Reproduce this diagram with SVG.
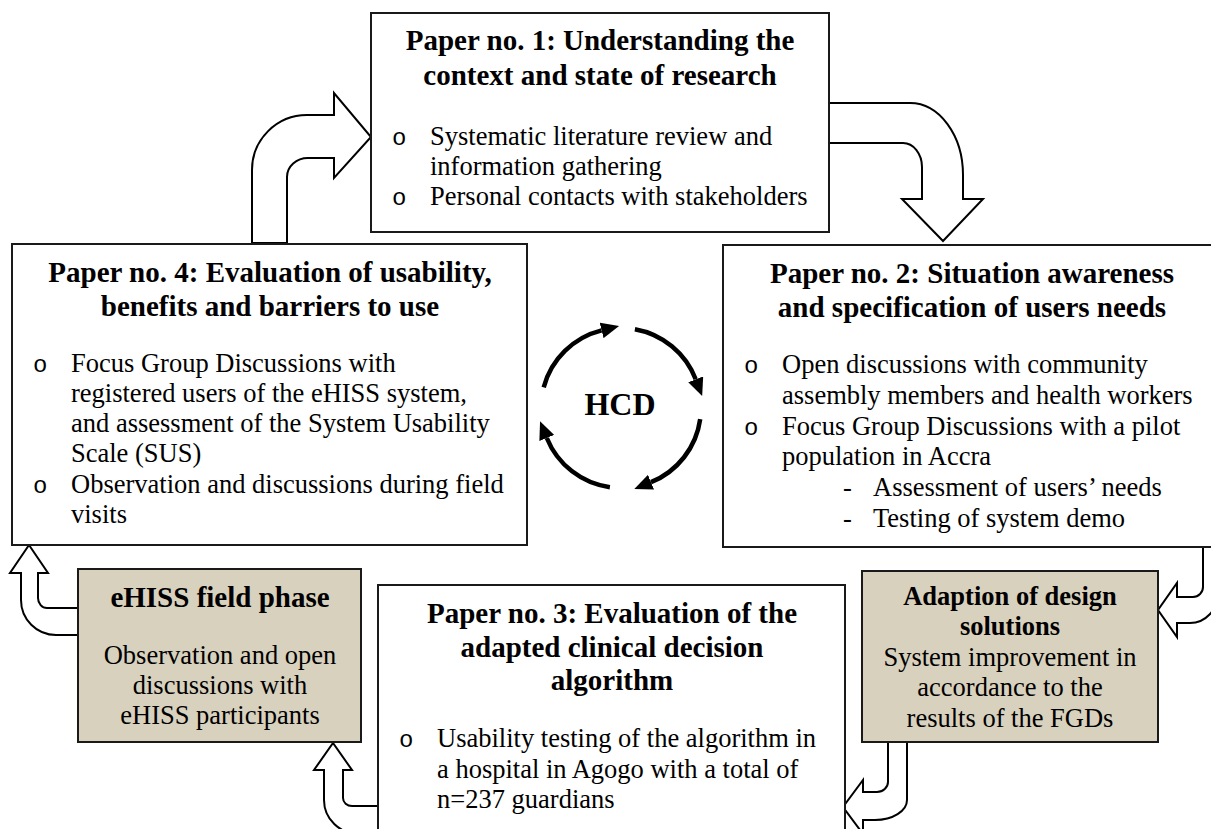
<svg xmlns="http://www.w3.org/2000/svg" width="1211" height="829" viewBox="0 0 1211 829">
  <defs>
    <style>
      .box { fill: #ffffff; stroke: #1a1a1a; stroke-width: 2; }
      .tan { fill: #d8d1bd; stroke: #1a1a1a; stroke-width: 2; }
      .flow { fill: #ffffff; stroke: #000000; stroke-width: 2; stroke-linejoin: miter; }
      .cycle { fill: none; stroke: #000000; stroke-width: 4.5; marker-end: url(#head); }
      .title { font-family: "Liberation Serif", "Times New Roman", serif; font-weight: bold; font-size: 29px; fill: #000; text-anchor: middle; }
      .stitle { font-family: "Liberation Serif", "Times New Roman", serif; font-weight: bold; font-size: 26.5px; fill: #000; text-anchor: middle; }
      .body { font-family: "Liberation Serif", "Times New Roman", serif; font-size: 26.5px; fill: #000; }
      .mid { text-anchor: middle; }
      .bul { font-family: "Liberation Mono", "Courier New", monospace; font-size: 24px; fill: #000; }
      .hcd { font-family: "Liberation Serif", "Times New Roman", serif; font-weight: bold; font-size: 32px; fill: #000; text-anchor: middle; }
    </style>
    <marker id="head" viewBox="0 0 18 16" refX="0" refY="8" markerWidth="18" markerHeight="16" markerUnits="userSpaceOnUse" orient="auto">
      <path d="M0,0 L18,8 L0,16 Z" fill="#000"/>
    </marker>
  </defs>

  <!-- block arrows between the stages -->
  <g id="connectors">
    <path id="p4-to-p1" class="flow" d="M 252 243 L 252 170 A 55 55 0 0 1 307 115 L 334 115 L 334 93 L 371 137 L 334 178 L 334 158 L 308 158 A 21 19 0 0 0 287 177 L 287 243 Z"/>
    <path id="p1-to-p2" class="flow" d="M 829 103 L 910 103 A 53 72 0 0 1 963 175 L 963 199 L 983 199 L 943 241 L 902 199 L 922 199 L 922 167 A 19 24 0 0 0 903 143 L 829 143 Z"/>
    <path id="p2-to-adapt" class="flow" d="M 1203 546 L 1203 587 A 10 10 0 0 1 1193 597 L 1177 597 L 1177 583 L 1158 610 L 1177 637 L 1177 623 L 1190 623 A 28 30 0 0 0 1218 593 L 1218 546 Z"/>
    <path id="adapt-to-p3" class="flow" d="M 888 742 L 888 782 A 11 10 0 0 1 877 792 L 863 792 L 863 780 L 843 807 L 863 834 L 863 820 L 875 820 A 32 20 0 0 0 907 800 L 907 742 Z"/>
    <path id="p3-to-field" class="flow" d="M 379 806 L 352 806 A 9 8 0 0 1 343 798 L 343 770 L 352 770 L 333 743 L 314 770 L 324 770 L 324 800 A 35 34 0 0 0 359 834 L 379 834 Z"/>
    <path id="field-to-p4" class="flow" d="M 78 608 L 47 608 A 9 10 0 0 1 38 598 L 38 573 L 48 573 L 29 545 L 10 573 L 21 573 L 21 600 A 35 35 0 0 0 56 635 L 78 635 Z"/>
  </g>

  <!-- Paper 1 -->
  <g id="paper1">
    <rect class="box" x="371" y="13" width="458" height="219"/>
    <text class="title" x="600" y="50">Paper no. 1: Understanding the</text>
    <text class="title" x="600" y="85">context and state of research</text>
    <text class="bul" x="392" y="145">o</text>
    <text class="body" x="430" y="145">Systematic literature review and</text>
    <text class="body" x="430" y="175">information gathering</text>
    <text class="bul" x="392" y="205">o</text>
    <text class="body" x="430" y="205">Personal contacts with stakeholders</text>
  </g>

  <!-- Paper 4 -->
  <g id="paper4">
    <rect class="box" x="12" y="244" width="515" height="301"/>
    <text class="title" x="270" y="282">Paper no. 4: Evaluation of usability,</text>
    <text class="title" x="270" y="316">benefits and barriers to use</text>
    <text class="bul" x="33" y="372">o</text>
    <text class="body" x="71" y="372">Focus Group Discussions with</text>
    <text class="body" x="71" y="402">registered users of the eHISS system,</text>
    <text class="body" x="71" y="432">and assessment of the System Usability</text>
    <text class="body" x="71" y="462">Scale (SUS)</text>
    <text class="bul" x="33" y="493">o</text>
    <text class="body" x="71" y="493">Observation and discussions during field</text>
    <text class="body" x="71" y="523">visits</text>
  </g>

  <!-- Paper 2 -->
  <g id="paper2">
    <rect class="box" x="723" y="245" width="500" height="302"/>
    <text class="title" x="972" y="283">Paper no. 2: Situation awareness</text>
    <text class="title" x="972" y="317">and specification of users needs</text>
    <text class="bul" x="744" y="373">o</text>
    <text class="body" x="782" y="373">Open discussions with community</text>
    <text class="body" x="782" y="404">assembly members and health workers</text>
    <text class="bul" x="744" y="435">o</text>
    <text class="body" x="782" y="435">Focus Group Discussions with a pilot</text>
    <text class="body" x="782" y="465">population in Accra</text>
    <text class="body" x="843" y="496">-</text>
    <text class="body" x="873" y="496">Assessment of users’ needs</text>
    <text class="body" x="843" y="527">-</text>
    <text class="body" x="873" y="527">Testing of system demo</text>
  </g>

  <!-- HCD cycle -->
  <g id="hcd">
    <path class="cycle" d="M 543.7 387.3 A 80 80 0 0 1 601.6 330.4"/>
    <path class="cycle" d="M 634.9 329.2 A 80 80 0 0 1 695.7 379.3"/>
    <path class="cycle" d="M 700.2 419.1 A 80 80 0 0 1 651 482.2"/>
    <path class="cycle" d="M 609.9 487.2 A 80 80 0 0 1 546.8 438"/>
    <text class="hcd" x="620" y="415">HCD</text>
  </g>

  <!-- eHISS field phase -->
  <g id="field-phase">
    <rect class="tan" x="78" y="569" width="283" height="173"/>
    <text class="title" x="220" y="607">eHISS field phase</text>
    <text class="body mid" x="220" y="664">Observation and open</text>
    <text class="body mid" x="220" y="694">discussions with</text>
    <text class="body mid" x="220" y="724">eHISS participants</text>
  </g>

  <!-- Paper 3 -->
  <g id="paper3">
    <rect class="box" x="378" y="585" width="467" height="260"/>
    <text class="title" x="612" y="623">Paper no. 3: Evaluation of the</text>
    <text class="title" x="612" y="657">adapted clinical decision</text>
    <text class="title" x="612" y="690">algorithm</text>
    <text class="bul" x="399" y="747">o</text>
    <text class="body" x="437" y="747">Usability testing of the algorithm in</text>
    <text class="body" x="437" y="778">a hospital in Agogo with a total of</text>
    <text class="body" x="437" y="808">n=237 guardians</text>
  </g>

  <!-- Adaption of design solutions -->
  <g id="adaption">
    <rect class="tan" x="862" y="571" width="296" height="171"/>
    <text class="stitle" x="1010" y="605">Adaption of design</text>
    <text class="stitle" x="1010" y="635">solutions</text>
    <text class="body mid" x="1010" y="666">System improvement in</text>
    <text class="body mid" x="1010" y="696">accordance to the</text>
    <text class="body mid" x="1010" y="727">results of the FGDs</text>
  </g>
</svg>
